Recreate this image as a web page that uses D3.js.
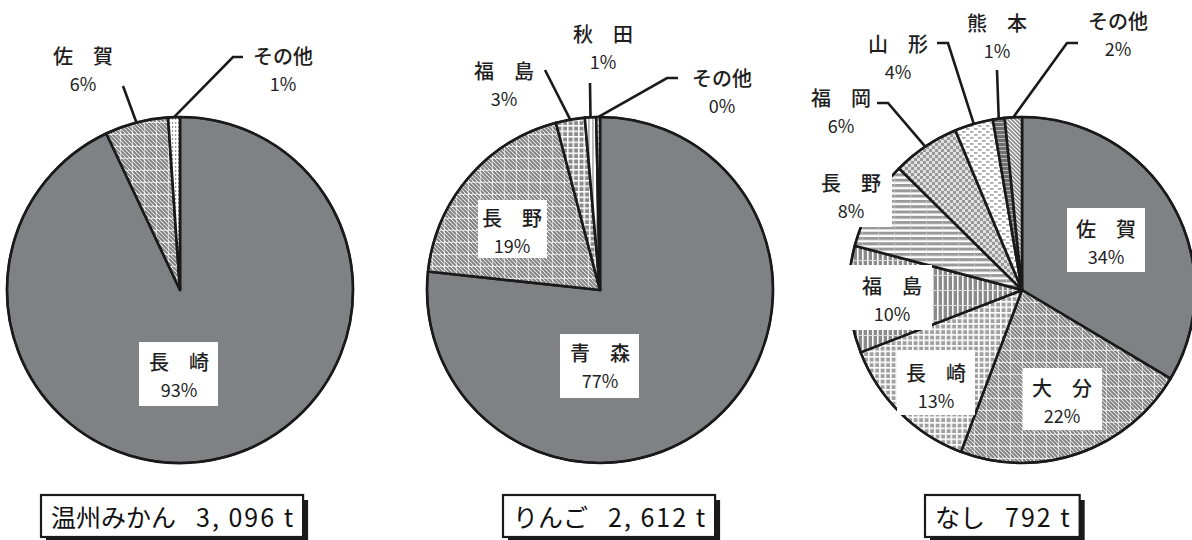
<!DOCTYPE html>
<meta charset="utf-8">
<style>
	body { margin: 0; background: #fff; }
	svg { display: block; font-family: "Noto Sans CJK JP", "Noto Sans", sans-serif; }
</style>
<body>
<svg id="chart" width="1192" height="540"></svg>
<script src="https://cdn.jsdelivr.net/npm/d3@7/dist/d3.min.js"></script>
<script>
	// shares (percent of each crop's harvest)
	var mikanNames = ["長崎", "佐賀", "その他"];
	var mikanValues = [93.0, 5.9, 1.1];
	var mikanTitle = "温州みかん";
	var mikanTotal = "3, 096 t";

	var ringoNames = ["青森", "長野", "福島", "秋田", "その他"];
	var ringoValues = [76.7, 19.2, 2.7, 1.05, 0.35];
	var ringoTitle = "りんご";
	var ringoTotal = "2, 612 t";

	var nashiNames = ["佐賀", "大分", "長崎", "福島", "長野", "福岡", "山形", "熊本", "その他"];
	var nashiValues = [33.6, 22.2, 13.4, 10.0, 8.3, 6.3, 3.6, 1.1, 1.6];
	var nashiTitle = "なし";
	var nashiTotal = "792 t";

	var R = 173;
	var svg = d3.select("#chart");
	var defs = svg.append("defs");

	// --- fill patterns ---
	function pattern(id, w, h, bg) {
		var p = defs.append("pattern").attr("id", id)
			.attr("patternUnits", "userSpaceOnUse")
			.attr("width", w).attr("height", h);
		p.append("rect").attr("width", w).attr("height", h).attr("fill", bg);
		return p;
	}

	// diagonal stripes with a white grid
	var diag = pattern("diag", 12, 12, "#fff");
	for (var k = -12; k <= 12; k += 4) {
		diag.append("line").attr("x1", k).attr("y1", 0).attr("x2", k + 12).attr("y2", 12)
			.attr("stroke", "#858585").attr("stroke-width", 2.2);
	}
	diag.append("line").attr("x1", 0).attr("y1", 0).attr("x2", 12).attr("y2", 0).attr("stroke", "#fff").attr("stroke-width", 1.2);
	diag.append("line").attr("x1", 0).attr("y1", 0).attr("x2", 0).attr("y2", 12).attr("stroke", "#fff").attr("stroke-width", 1.2);

	// plain diagonal stripes
	var diag2 = pattern("diag2", 4, 4, "#fff");
	diag2.append("path").attr("d", "M-1,-1L5,5M-1,3L1,5M3,-1L5,1")
		.attr("stroke", "#8a8a8a").attr("stroke-width", 1.6);

	// grey squares with white lines
	var grid = pattern("grid", 5.5, 5.5, "#8c8c8c");
	grid.append("rect").attr("width", 5.5).attr("height", 1.5).attr("fill", "#fff");
	grid.append("rect").attr("width", 1.5).attr("height", 5.5).attr("fill", "#fff");

	var grid2 = pattern("grid2", 5.5, 5.5, "#a0a0a0");
	grid2.append("rect").attr("width", 5.5).attr("height", 1.6).attr("fill", "#fff");
	grid2.append("rect").attr("width", 1.6).attr("height", 5.5).attr("fill", "#fff");

	// vertical stripes
	var vert = pattern("vert", 5, 15, "#8a8a8a");
	vert.append("rect").attr("width", 1.6).attr("height", 15).attr("fill", "#fff");
	vert.append("rect").attr("width", 5).attr("height", 1).attr("fill", "#ddd");

	// horizontal stripes
	var horiz = pattern("horiz", 16, 5.3, "#fff");
	horiz.append("rect").attr("width", 16).attr("height", 3).attr("fill", "#999");
	horiz.append("rect").attr("width", 1).attr("height", 5.3).attr("fill", "#ddd").attr("opacity", 0.5);

	// small checkerboard
	var checker = pattern("checker", 6, 6, "#e0e0e0");
	checker.append("rect").attr("width", 3).attr("height", 3).attr("fill", "#9a9a9a");
	checker.append("rect").attr("x", 3).attr("y", 3).attr("width", 3).attr("height", 3).attr("fill", "#9a9a9a");

	// light dashes
	var dash = pattern("dash", 8, 6, "#fff");
	dash.append("rect").attr("width", 3.5).attr("height", 1.8).attr("fill", "#aaa");
	dash.append("rect").attr("x", 4).attr("y", 3).attr("width", 3.5).attr("height", 1.8).attr("fill", "#aaa");

	// dark grey with light lines
	var dark = pattern("dark", 4, 4, "#707070");
	dark.append("rect").attr("width", 4).attr("height", 1).attr("fill", "#bbb");

	// light vertical lines
	var lightv = pattern("lightv", 4, 4, "#fff");
	lightv.append("rect").attr("width", 1.8).attr("height", 4).attr("fill", "#b5b5b5");

	// vertical dots
	var vdots = pattern("vdots", 3, 4, "#fff");
	vdots.append("rect").attr("x", 1).attr("width", 1.2).attr("height", 2).attr("fill", "#999");

	// --- layout of each pie ---
	var charts = [
		{ names: mikanNames, values: mikanValues, title: mikanTitle, total: mikanTotal,
		  cx: 180, cy: 290, titleX: 41,
		  fills: ["#808185", "url(#diag)", "url(#vdots)"],
		  labels: [
			{ x: 179, y: 361, box: [139, 342, 79, 64] },
			{ x: 83, y: 55, leader: [[123, 86]] },
			{ x: 283, y: 55, leader: [[233, 57], [243, 57]] }
		  ] },
		{ names: ringoNames, values: ringoValues, title: ringoTitle, total: ringoTotal,
		  cx: 600, cy: 290, titleX: 503,
		  fills: ["#808185", "url(#diag)", "url(#grid)", "url(#lightv)", "url(#dash)"],
		  labels: [
			{ x: 600, y: 352, box: [560, 334, 79, 64] },
			{ x: 512, y: 217, box: [478, 200, 69, 58] },
			{ x: 504, y: 70, leader: [[545, 70]] },
			{ x: 603, y: 33, leader: [[590, 83]] },
			{ x: 722, y: 77, leader: [[667, 78], [678, 78]] }
		  ] },
		{ names: nashiNames, values: nashiValues, title: nashiTitle, total: nashiTotal,
		  cx: 1022, cy: 290, titleX: 925,
		  fills: ["#808185", "url(#diag)", "url(#grid2)", "url(#vert)", "url(#horiz)",
		          "url(#checker)", "url(#dash)", "url(#dark)", "url(#diag2)"],
		  labels: [
			{ x: 1106, y: 228, box: [1067, 208, 78, 64] },
			{ x: 1062, y: 387, box: [1023, 368, 79, 62] },
			{ x: 936, y: 372, box: [897, 350, 78, 65] },
			{ x: 892, y: 285, box: [846, 265, 86, 65] },
			{ x: 851, y: 182, box: [815, 168, 77, 59] },
			{ x: 841, y: 97, leader: [[888, 103], [877, 103]] },
			{ x: 898, y: 43, leader: [[948, 43], [937, 43]] },
			{ x: 997, y: 22, leader: [[997, 70]] },
			{ x: 1118, y: 20, leader: [[1067, 43], [1078, 43]] }
		  ] }
	];

	var pie = d3.pie().sort(null).value(function (d) { return d; });
	var arc = d3.arc().innerRadius(0).outerRadius(R);
	var rim = d3.arc().innerRadius(R).outerRadius(R);

	function spaced(name) {
		return name.length == 2 ? name.split("").join("　") : name;
	}

	charts.forEach(function (c) {
		var sum = d3.sum(c.values);
		var arcs = pie(c.values);
		var g = svg.append("g").attr("transform", "translate(" + c.cx + "," + c.cy + ")");

		g.selectAll("path.slice")
			.data(arcs)
			.enter().append("path")
			.attr("class", "slice")
			.attr("d", arc)
			.attr("fill", function (d, i) { return c.fills[i]; })
			.attr("stroke", "#1a1a1a")
			.attr("stroke-width", 2.6)
			.attr("stroke-linejoin", "round");

		g.append("circle").attr("r", R).attr("fill", "none")
			.attr("stroke", "#1a1a1a").attr("stroke-width", 2.2);

		// leader lines from the rim at the middle of the slice
		arcs.forEach(function (d, i) {
			var lab = c.labels[i];
			if (!lab.leader) return;
			var p = rim.centroid(d);
			var pts = [[p[0] + c.cx, p[1] + c.cy]].concat(lab.leader);
			svg.append("path")
				.attr("d", d3.line()(pts))
				.attr("fill", "none")
				.attr("stroke", "#1a1a1a")
				.attr("stroke-width", 2.6);
		});

		// labels
		arcs.forEach(function (d, i) {
			var lab = c.labels[i];
			if (lab.box) {
				svg.append("rect")
					.attr("x", lab.box[0]).attr("y", lab.box[1])
					.attr("width", lab.box[2]).attr("height", lab.box[3])
					.attr("fill", "#fff");
			}
			svg.append("text")
				.attr("x", lab.x).attr("y", lab.y)
				.attr("text-anchor", "middle")
				.attr("dominant-baseline", "central")
				.attr("font-size", 20)
				.attr("font-weight", 500)
				.attr("fill", "#1e1e1e")
				.text(spaced(c.names[i]));
			svg.append("text")
				.attr("x", lab.x).attr("y", lab.y + 28)
				.attr("text-anchor", "middle")
				.attr("dominant-baseline", "central")
				.attr("font-size", 18)
				.attr("fill", "#222")
				.text(Math.round(d.data / sum * 100) + "%");
		});

		// title box with a drop shadow
		var tg = svg.append("g");
		var shadow = tg.append("rect").attr("fill", "#1a1a1a");
		var frame = tg.append("rect").attr("fill", "#fff")
			.attr("stroke", "#1a1a1a").attr("stroke-width", 2.2);
		var t = tg.append("text")
			.attr("x", c.titleX + 10).attr("y", 516)
			.attr("dominant-baseline", "central")
			.attr("font-size", 25)
			.attr("fill", "#111");
		t.append("tspan").text(c.title);
		t.append("tspan").attr("dx", 20).attr("letter-spacing", 2).text(c.total);

		var bb = t.node().getBBox();
		var w = bb.x + bb.width - c.titleX + 8;
		frame.attr("x", c.titleX).attr("y", 495).attr("width", w).attr("height", 42);
		shadow.attr("x", c.titleX + 5).attr("y", 500).attr("width", w).attr("height", 42);
	});
</script>
</body>
